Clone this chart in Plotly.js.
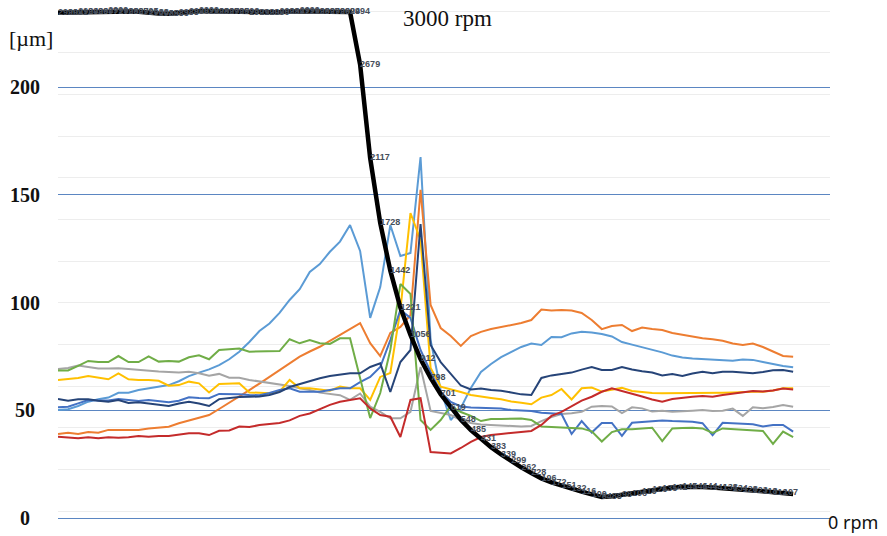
<!DOCTYPE html>
<html>
<head>
<meta charset="utf-8">
<script src="https://cdn.plot.ly/plotly-3.0.1.min.js"></script>
<style>
  html, body { margin: 0; padding: 0; background: #ffffff; }
  #chart { width: 887px; height: 536px; }
</style>
</head>
<body>
<div id="chart"></div>
<script>
// Displacement of eight probes [µm] during run-down, with spindle speed [rpm]
const lightBlue = [50.1,50.5,52.0,54.0,55.1,55.9,58.1,58.2,59.4,60.2, 60.8,61.7,63.5,65.9,67.5,69.0,71.0,73.7,77.2,81.7, 86.8,90.3,95.2,101.2,106.2,114.2,117.9,123.6,128.3,136.0, 124.0,92.9,107.2,136.0,121.6,123.0,167.6,82.6,59.4,45.5, 51.1,60.4,67.8,71.5,74.7,77.1,79.4,81.0,80.3,84.0, 83.9,85.7,86.5,86.1,85.4,84.3,81.7,80.5,79.4,78.2, 76.9,75.4,74.5,74.0,73.8,73.7,73.4,73.0,73.6,73.4, 72.4,71.4,70.6,70.0];
const orange = [39.0,39.6,39.0,39.9,39.6,40.9,40.9,40.9,40.9,41.6, 42.0,42.4,44.0,45.2,46.3,47.8,50.6,53.4,56.2,59.4, 62.4,65.5,68.7,71.7,74.9,77.3,79.5,82.2,85.0,88.0, 90.5,81.2,75.2,85.9,88.7,94.2,152.3,98.9,88.2,84.5, 79.9,84.5,86.4,87.7,88.7,89.6,90.5,91.9,96.8,96.3, 96.6,96.3,95.2,91.9,87.7,89.1,89.6,86.8,88.4,87.7, 87.3,85.9,85.0,84.2,83.4,83.0,82.3,81.0,80.3,81.0, 79.4,77.3,75.2,74.9];
const gray = [69.2,69.6,70.8,70.1,69.4,69.4,69.5,69.2,68.7,68.5, 68.0,67.8,67.5,67.9,67.2,66.1,66.9,65.1,65.1,64.1, 63.4,62.8,62.2,61.3,60.2,59.4,58.2,57.6,57.0,54.8, 57.8,51.7,49.3,46.3,46.3,49.3,70.1,49.7,48.6,47.8, 45.5,44.1,43.4,43.2,42.9,42.7,42.5,42.7,45.0,46.9, 48.3,48.6,49.3,51.7,52.0,51.8,48.7,51.4,50.9,49.4, 49.8,49.3,49.7,49.8,50.1,49.7,49.8,50.8,47.4,51.4, 50.9,51.5,52.5,51.7];
const yellow = [64.1,64.4,65.0,65.9,65.2,64.4,67.1,64.4,64.1,64.1, 63.7,61.4,61.7,63.3,62.5,58.3,62.2,62.4,62.5,58.3, 58.0,57.9,58.6,64.1,60.2,60.2,59.7,59.1,61.0,60.2, 60.2,54.8,65.5,67.3,96.6,141.6,129.1,69.6,61.0,59.9, 58.5,57.1,56.3,55.7,55.1,54.1,53.5,52.8,55.9,57.1, 59.9,55.0,60.2,60.6,58.7,59.4,60.4,59.0,58.5,58.0, 57.9,57.9,57.9,58.0,58.2,58.2,58.2,58.3,58.6,58.6, 58.6,59.2,60.2,60.2];
const blue = [51.4,51.7,53.2,54.8,54.5,54.5,55.2,54.8,54.3,54.8, 54.3,53.7,54.4,56.0,55.7,55.6,57.6,57.6,57.4,57.1, 57.0,58.0,59.4,60.2,58.6,58.6,58.6,59.4,60.2,60.2, 63.1,65.5,70.1,82.6,96.6,92.9,78.0,67.8,58.5,53.9, 51.8,51.3,51.1,50.9,50.8,50.1,49.9,49.7,48.9,48.6, 48.3,39.0,45.0,39.7,44.1,44.1,38.1,44.2,44.6,44.7, 45.3,45.0,44.9,44.7,44.0,38.5,44.2,44.0,43.6,43.5, 42.5,43.2,43.2,40.1];
const green = [68.5,68.5,70.6,72.9,72.4,72.4,75.2,72.4,72.4,75.0, 72.6,72.9,72.6,74.6,75.5,73.7,78.0,78.2,78.7,77.2, 77.3,77.3,77.5,83.0,81.1,82.6,81.1,80.8,83.4,83.4, 65.0,46.4,58.0,78.0,108.6,104.0,45.5,40.9,45.5,52.0, 49.2,47.4,45.0,46.0,46.0,46.0,46.2,45.5,42.5,42.2, 42.1,41.8,41.6,40.2,35.5,39.9,41.2,41.2,41.6,41.9, 35.7,41.6,41.8,41.9,41.6,39.5,41.6,41.3,40.9,40.9, 40.4,34.4,40.1,37.6];
const navy = [55.2,54.4,55.1,55.1,54.4,54.0,54.8,53.4,53.7,53.2, 52.5,52.0,53.2,54.0,53.2,52.0,55.2,55.7,56.2,56.3, 56.4,57.1,58.5,60.8,62.2,63.3,64.9,65.9,66.6,67.2, 67.2,70.1,71.8,58.5,72.4,78.0,136.5,80.3,72.4,66.9, 61.5,59.7,60.1,59.4,59.1,58.3,57.4,57.1,65.0,66.2, 66.7,67.5,68.9,70.1,68.7,68.7,70.1,68.9,68.1,67.5, 66.2,66.8,65.9,67.1,67.9,67.2,67.9,67.9,67.5,67.2, 67.8,68.6,68.7,67.9];
const red = [37.7,37.5,37.0,37.5,37.0,37.5,37.3,37.5,38.1,37.7, 38.1,38.1,38.8,39.3,39.3,38.5,40.5,40.6,42.5,42.2, 43.2,43.6,44.1,45.3,47.4,48.5,50.4,52.5,54.0,54.8, 55.6,50.9,47.8,47.0,37.6,54.8,55.6,30.6,30.3,30.0, 32.5,35.3,37.6,38.5,39.0,39.5,40.1,40.4,43.2,47.4, 49.3,52.0,54.5,56.3,58.6,60.2,59.0,57.9,56.4,55.0, 54.0,55.2,55.9,56.3,56.6,56.3,57.1,57.7,58.1,59.0, 58.7,59.2,60.1,59.7];
const rpm = [2990,2991,2994,2996,2997,2999,2998,2997,2995,2988, 2985,2983,2988,2996,2999,2998,2997,2995,2993,2991, 2990,2990,2993,2997,2999,2998,2997,2996,2994,2994, 2679,2117,1728,1442,1221,1056,912,798,701,619, 548,485,431,383,339,299,262,228,196,172, 151,132,116,100,84,88,98,106,116,126, 135,141,145,146,144,141,138,134,128,123, 118,112,107,102];

// axis ticks
const umTicks = [0, 50, 100, 150, 200];
const rpmTicks = [0, 250, 500, 750, 1000, 1250, 1500, 1750, 2000, 2250, 2500, 2750, 3000];

const step = rpm.map((_, i) => i);

const probes = [
  { y: lightBlue, color: '#5B9BD5' },
  { y: orange,    color: '#ED7D31' },
  { y: gray,      color: '#A5A5A5' },
  { y: yellow,    color: '#FFC000' },
  { y: blue,      color: '#4472C4' },
  { y: green,     color: '#70AD47' },
  { y: navy,      color: '#264478' },
  { y: red,       color: '#C42B2B' }
];

const traces = probes.map(p => ({
  type: 'scatter', mode: 'lines', x: step, y: p.y,
  line: { color: p.color, width: 2 }, hoverinfo: 'skip', showlegend: false
}));

// speed labels on every sample except the final one, which sits past the plot end
const rpmText = rpm.map((v, i) => (i === rpm.length - 1 ? '' : String(v)));

traces.push({
  type: 'scatter', mode: 'lines+text', x: step, y: rpm, yaxis: 'y2',
  line: { color: '#000000', width: 4.5 },
  text: rpmText, textposition: 'middle right',
  textfont: { family: 'Liberation Sans, Arial, sans-serif', size: 9, color: '#454d5a', weight: 'bold' },
  cliponaxis: false, hoverinfo: 'skip', showlegend: false
});

const serif = 'Liberation Serif, Times New Roman, serif';
const annotations = umTicks.map(v => ({
  text: String(v), x: -0.0427, xref: 'paper', xanchor: 'center',
  y: v, yref: 'y', yanchor: 'middle', showarrow: false,
  font: { family: serif, size: 20, color: '#111111', weight: 'bold' }
}));
annotations.push(
  { text: '[µm]', x: -0.035, xref: 'paper', xanchor: 'center', y: 0.9365, yref: 'paper', yanchor: 'middle',
    showarrow: false, font: { family: serif, size: 22, color: '#111111' } },
  { text: '3000 rpm', x: 0.505, xref: 'paper', xanchor: 'center', y: 0.975, yref: 'paper', yanchor: 'middle',
    showarrow: false, font: { family: serif, size: 23, color: '#111111' } },
  { text: '0 rpm', x: 1.0298, xref: 'paper', xanchor: 'center', y: 0.006, yref: 'paper', yanchor: 'middle',
    showarrow: false, font: { family: 'Noto Sans, sans-serif', size: 18, color: '#111111' } }
);

const layout = {
  width: 887, height: 536,
  margin: { l: 58, r: 57, t: 5, b: 11, pad: 0 },
  paper_bgcolor: '#ffffff', plot_bgcolor: 'rgba(0,0,0,0)',
  showlegend: false,
  xaxis: { range: [0, 76.66], visible: false, fixedrange: true },
  yaxis: {
    range: [-3.25, 238.16], tickvals: umTicks, showticklabels: false,
    showgrid: true, gridcolor: '#5B86C2', gridwidth: 1, zeroline: false, showline: false, ticks: ''
  },
  yaxis2: {
    range: [-84, 3036], overlaying: 'y', side: 'right', tickvals: rpmTicks, showticklabels: false,
    showgrid: true, gridcolor: '#EDEDED', gridwidth: 1, zeroline: false, showline: false, ticks: ''
  },
  annotations: annotations
};

Plotly.newPlot('chart', traces, layout, { staticPlot: true, displayModeBar: false });
</script>
</body>
</html>
